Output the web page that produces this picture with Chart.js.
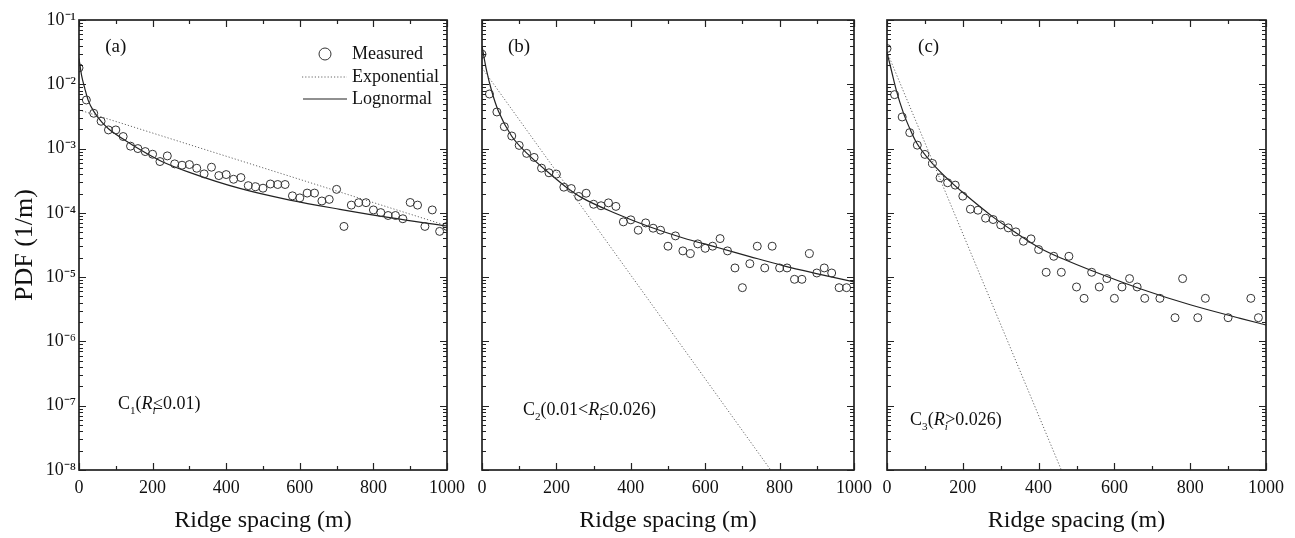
<!DOCTYPE html>
<html><head><meta charset="utf-8">
<script src="https://cdn.jsdelivr.net/npm/chart.js@4.4.0/dist/chart.umd.min.js"></script>
<style>
html,body{margin:0;padding:0;background:#fff;}
#wrap{position:relative;width:1295px;height:538px;overflow:hidden;background:#fff;}
canvas{position:absolute;top:0;}
</style></head><body><div id="wrap">
<canvas id="ca"></canvas><canvas id="cb"></canvas><canvas id="cc"></canvas>
</div>
<script>
// ---------- data ----------
const xTicks = [0, 200, 400, 600, 800, 1000];
const xMinorTicks = [100, 300, 500, 700, 900];
const yTicks = [1e-1, 1e-2, 1e-3, 1e-4, 1e-5, 1e-6, 1e-7, 1e-8];
const yTickLabels = ['10⁻¹', '10⁻²', '10⁻³', '10⁻⁴', '10⁻⁵', '10⁻⁶', '10⁻⁷', '10⁻⁸'];
const yMinorFactors = [2, 3, 4, 5, 6, 7, 8, 9];
const seriesNames = ['Measured', 'Exponential', 'Lognormal'];
const xTitle = 'Ridge spacing (m)';
const yTitle = 'PDF (1/m)';

// panel (a)
const measXa = [0,20,40,60,80,100,120,140,160,180,200,220,240,260,280,300,320,340,360,380,400,420,440,460,480,500,520,540,560,580,600,620,640,660,680,700,720,740,760,780,800,820,840,860,880,900,920,940,960,980,1000];
const measYa = [1.8e-2,5.7e-3,3.54e-3,2.66e-3,1.95e-3,1.95e-3,1.54e-3,1.09e-3,1.0e-3,8.98e-4,8.16e-4,6.28e-4,7.69e-4,5.78e-4,5.51e-4,5.64e-4,4.94e-4,4.04e-4,5.13e-4,3.80e-4,3.94e-4,3.33e-4,3.54e-4,2.65e-4,2.55e-4,2.42e-4,2.81e-4,2.76e-4,2.76e-4,1.84e-4,1.71e-4,2.03e-4,2.03e-4,1.53e-4,1.62e-4,2.32e-4,6.15e-5,1.32e-4,1.44e-4,1.44e-4,1.11e-4,1.01e-4,9.1e-5,9.1e-5,8.1e-5,1.45e-4,1.32e-4,6.15e-5,1.11e-4,5.15e-5,6.15e-5];
const expXa = [0, 1000];
const expYa = [4.0e-3, 6.3e-5];
const logXa = [0,7,16,25,41,62,80,125,170,225,300,437,573,709,845,1000];
const logYa = [2.51e-2,1.38e-2,8.51e-3,5.62e-3,3.72e-3,2.57e-3,2.04e-3,1.35e-3,9.33e-4,6.31e-4,4.27e-4,2.40e-4,1.58e-4,1.135e-4,8.41e-5,6.24e-5];

// panel (b)
const measXb = [0,20,40,60,80,100,120,140,160,180,200,220,240,260,280,300,320,340,360,380,400,420,440,460,480,500,520,540,560,580,600,620,640,660,680,700,720,740,760,780,800,820,840,860,880,900,920,940,960,980];
const measYb = [2.94e-2,7.06e-3,3.71e-3,2.19e-3,1.57e-3,1.12e-3,8.41e-4,7.28e-4,4.96e-4,4.20e-4,4.01e-4,2.51e-4,2.39e-4,1.80e-4,2.02e-4,1.36e-4,1.29e-4,1.43e-4,1.26e-4,7.24e-5,7.79e-5,5.37e-5,6.98e-5,5.77e-5,5.37e-5,3.03e-5,4.38e-5,2.56e-5,2.32e-5,3.29e-5,2.81e-5,3.03e-5,3.98e-5,2.56e-5,1.39e-5,6.86e-6,1.62e-5,3.03e-5,1.39e-5,3.03e-5,1.39e-5,1.39e-5,9.25e-6,9.25e-6,2.32e-5,1.16e-5,1.39e-5,1.16e-5,6.86e-6,6.86e-6];
const expXb = [0, 776];
const expYb = [1.8e-2, 1e-8];
const logXb = [0,12.5,26,44,79.5,124,169,223,267,360,452,541,631,720,809,899,1000];
const logYb = [3.95e-2,1.61e-2,7.87e-3,3.84e-3,1.57e-3,8.11e-4,4.73e-4,2.60e-4,1.74e-4,9.77e-5,6.03e-5,4.07e-5,2.92e-5,2.09e-5,1.51e-5,1.135e-5,8.41e-6];

// panel (c)
const measXc = [0,20,40,60,80,100,120,140,160,180,200,220,240,260,280,300,320,340,360,380,400,420,440,460,480,500,520,540,560,580,600,620,640,660,680,720,760,780,820,840,900,960,980];
const measYc = [3.6e-2,6.9e-3,3.10e-3,1.77e-3,1.13e-3,8.11e-4,5.87e-4,3.51e-4,2.94e-4,2.70e-4,1.82e-4,1.14e-4,1.10e-4,8.26e-5,7.87e-5,6.50e-5,5.84e-5,5.06e-5,3.62e-5,3.94e-5,2.69e-5,1.19e-5,2.11e-5,1.19e-5,2.11e-5,7.03e-6,4.68e-6,1.19e-5,7.03e-6,9.49e-6,4.68e-6,7.03e-6,9.49e-6,7.03e-6,4.68e-6,4.68e-6,2.34e-6,9.49e-6,2.34e-6,4.68e-6,2.34e-6,4.68e-6,2.34e-6];
const expXc = [0, 460];
const expYc = [3.2e-2, 1e-8];
const logXc = [0,12,25,43,61,78,122,166,201,281,340,404,470,536,668,800,932,1000];
const logYc = [3.12e-2,1.61e-2,7.9e-3,3.62e-3,1.99e-3,1.23e-3,5.66e-4,3.11e-4,2.05e-4,8.51e-5,4.90e-5,2.82e-5,1.86e-5,1.29e-5,6.61e-6,3.72e-6,2.29e-6,1.80e-6];

// ---------- styles / layout ----------
const SERIF = "'Liberation Serif','Times New Roman',serif";
const TEXT = '#111';
const FRAME = '#222';

const panels = [
  { id:'ca', left:0, width:472, showY:true, tag:'(a)', tagPos:[71, 3.8e-2], legend:true,
    mx:measXa, my:measYa, ex:expXa, ey:expYa, lx:logXa, ly:logYa,
    note:[['C','n'],['1','sub'],['(','n'],['R','i'],['i','isub'],['≤0.01)','n']], notePos:[106, 8.9e-8] },
  { id:'cb', left:403, width:476, showY:false, tag:'(b)', tagPos:[70, 3.8e-2], legend:false,
    mx:measXb, my:measYb, ex:expXb, ey:expYb, lx:logXb, ly:logYb,
    note:[['C','n'],['2','sub'],['(0.01<','n'],['R','i'],['i','isub'],['≤0.026)','n']], notePos:[110, 7.2e-8] },
  { id:'cc', left:808, width:483, showY:false, tag:'(c)', tagPos:[82, 3.8e-2], legend:false,
    mx:measXc, my:measYc, ex:expXc, ey:expYc, lx:logXc, ly:logYc,
    note:[['C','n'],['3','sub'],['(','n'],['R','i'],['i','isub'],['>0.026)','n']], notePos:[61, 5.0e-8] }
];

function zip(xs, ys){ return xs.map((x,i)=>({x:x, y:ys[i]})); }

function drawRich(ctx, segs, x, y, size){
  let cx = x;
  ctx.textBaseline = 'alphabetic';
  ctx.textAlign = 'left';
  for (const [t, st] of segs){
    const italic = st === 'i' || st === 'isub';
    const sub = st === 'sub' || st === 'isub';
    const fs = sub ? size*0.62 : size;
    ctx.font = (italic ? 'italic ' : '') + fs + 'px ' + SERIF;
    ctx.fillText(t, cx, y + (sub ? size*0.28 : 0));
    const w = ctx.measureText(t).width;
    cx += st === 'isub' ? w*0.15 : w;
  }
}

const framePlugin = {
  id: 'frameTicks',
  afterDatasetsDraw(chart){
    const {ctx, chartArea:a, scales} = chart;
    const xs = scales.x, ys = scales.y;
    ctx.save();
    ctx.strokeStyle = FRAME;
    ctx.lineWidth = 1.2;
    const major = 7, minor = 4;
    ctx.beginPath();
    for (const v of xTicks){
      const px = Math.round(xs.getPixelForValue(v)) + 0.5;
      ctx.moveTo(px, a.bottom); ctx.lineTo(px, a.bottom - major);
      ctx.moveTo(px, a.top); ctx.lineTo(px, a.top + major);
    }
    for (const v of xMinorTicks){
      const px = Math.round(xs.getPixelForValue(v)) + 0.5;
      ctx.moveTo(px, a.bottom); ctx.lineTo(px, a.bottom - minor);
      ctx.moveTo(px, a.top); ctx.lineTo(px, a.top + minor);
    }
    for (const v of yTicks){
      const py = Math.round(ys.getPixelForValue(v)) + 0.5;
      ctx.moveTo(a.left, py); ctx.lineTo(a.left + major, py);
      ctx.moveTo(a.right, py); ctx.lineTo(a.right - major, py);
    }
    for (const d of yTicks.slice(1)){
      for (const f of yMinorFactors){
        const py = Math.round(ys.getPixelForValue(d*f)) + 0.5;
        ctx.moveTo(a.left, py); ctx.lineTo(a.left + minor, py);
        ctx.moveTo(a.right, py); ctx.lineTo(a.right - minor, py);
      }
    }
    ctx.stroke();
    ctx.lineWidth = 1.7;
    ctx.strokeRect(a.left, a.top, a.right - a.left, a.bottom - a.top);
    ctx.restore();
  }
};

const textPlugin = {
  id: 'panelText',
  afterDraw(chart, args, opts){
    const p = opts.panel;
    const {ctx, chartArea:a, scales} = chart;
    const xs = scales.x, ys = scales.y;
    ctx.save();
    ctx.fillStyle = TEXT;
    ctx.font = '19px ' + SERIF;
    ctx.textAlign = 'left';
    ctx.textBaseline = 'middle';
    ctx.fillText(p.tag, xs.getPixelForValue(p.tagPos[0]), ys.getPixelForValue(p.tagPos[1]));
    drawRich(ctx, p.note, xs.getPixelForValue(p.notePos[0]), ys.getPixelForValue(p.notePos[1]), 18);
    if (p.legend){
      const ds = chart.data.datasets;
      const tx = a.right - 95;
      const rows = [a.top + 34, a.top + 57, a.top + 79];
      ctx.font = '18px ' + SERIF;
      ctx.textBaseline = 'middle';
      ctx.textAlign = 'left';
      ctx.beginPath();
      ctx.lineWidth = 1;
      ctx.strokeStyle = ds[0].borderColor;
      ctx.arc(a.right - 122, rows[0], 6, 0, Math.PI*2);
      ctx.stroke();
      ctx.fillText(ds[0].label, tx, rows[0]);
      ctx.beginPath();
      ctx.setLineDash(ds[1].borderDash);
      ctx.strokeStyle = ds[1].borderColor;
      ctx.lineWidth = ds[1].borderWidth;
      ctx.moveTo(a.right - 145, rows[1]); ctx.lineTo(a.right - 100, rows[1]);
      ctx.stroke();
      ctx.setLineDash([]);
      ctx.fillText(ds[1].label, tx, rows[1]);
      ctx.beginPath();
      ctx.strokeStyle = ds[2].borderColor;
      ctx.lineWidth = ds[2].borderWidth;
      ctx.moveTo(a.right - 144, rows[2]); ctx.lineTo(a.right - 100, rows[2]);
      ctx.stroke();
      ctx.fillText(ds[2].label, tx, rows[2]);
    }
    ctx.restore();
  }
};

for (const p of panels){
  const cv = document.getElementById(p.id);
  cv.width = p.width; cv.height = 538;
  cv.style.left = p.left + 'px';
  new Chart(cv, {
    type: 'scatter',
    data: {
      datasets: [
        { label: seriesNames[0], data: zip(p.mx, p.my), showLine:false, pointStyle:'circle',
          pointRadius:4, pointBorderWidth:1, borderColor:'#333', backgroundColor:'rgba(0,0,0,0)',
          pointBorderColor:'#333', pointBackgroundColor:'rgba(0,0,0,0)', order:1 },
        { label: seriesNames[1], data: zip(p.ex, p.ey), showLine:true, pointRadius:0,
          borderColor:'#666', borderWidth:1, borderDash:[1.2,2], order:2 },
        { label: seriesNames[2], data: zip(p.lx, p.ly), showLine:true, pointRadius:0,
          borderColor:'#222', borderWidth:1.2, cubicInterpolationMode:'monotone', order:3 }
      ]
    },
    options: {
      responsive:false, animation:false, devicePixelRatio:1,
      layout:{ padding:{ top:20, right:25, left:0, bottom:0 } },
      plugins:{ legend:{display:false}, tooltip:{enabled:false}, panelText:{ panel:p } },
      scales:{
        x:{ type:'linear', min:0, max:1000,
            grid:{display:false, drawTicks:false}, border:{display:false},
            afterBuildTicks: s => { s.ticks = xTicks.map(v => ({value:v})); },
            afterFit: s => { s.height = 68; },
            ticks:{ font:{family:SERIF, size:18}, color:TEXT, padding:7, maxRotation:0, autoSkip:false,
                    callback: v => String(v) },
            title:{ display:true, text:xTitle, font:{family:SERIF, size:24}, color:TEXT, padding:{top:0,bottom:3} } },
        y:{ type:'logarithmic', min:1e-8, max:1e-1,
            grid:{display:false, drawTicks:false}, border:{display:false},
            afterBuildTicks: s => { s.ticks = yTicks.map(v => ({value:v})); },
            afterFit: s => { s.width = 79; },
            ticks:{ display:p.showY, font:{family:SERIF, size:18}, color:TEXT, padding:3, autoSkip:false,
                    callback: (v, i) => yTickLabels[i] },
            title:{ display:p.showY, text:yTitle, font:{family:SERIF, size:26}, color:TEXT, padding:{top:10,bottom:0} } }
      }
    },
    plugins:[framePlugin, textPlugin]
  });
}
</script>
</body></html>
